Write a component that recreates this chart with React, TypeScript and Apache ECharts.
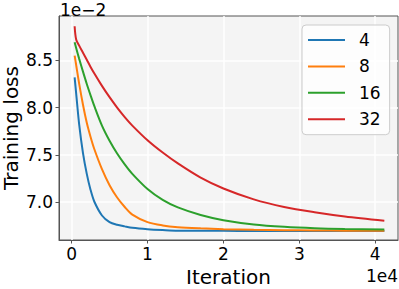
import React, { useEffect, useRef } from "react";
import * as echarts from "echarts";

const iterations = [400, 600, 1000, 1500, 2000, 2500, 3000, 4000, 5000, 6000, 7000, 8000, 10000, 12000, 14000, 17000, 20000, 24000, 28000, 32000, 36000, 41200];
const loss4 = [8.32, 8.15, 7.82, 7.52, 7.30, 7.13, 7.005, 6.86, 6.79, 6.762, 6.745, 6.73, 6.715, 6.706, 6.70, 6.70, 6.698, 6.697, 6.697, 6.696, 6.696, 6.696];
const loss8 = [8.55, 8.45, 8.25, 8.03, 7.84, 7.69, 7.56, 7.35, 7.18, 7.05, 6.95, 6.87, 6.79, 6.755, 6.737, 6.724, 6.715, 6.708, 6.704, 6.702, 6.70, 6.70];
const loss16 = [8.69, 8.63, 8.515, 8.38, 8.25, 8.13, 8.015, 7.81, 7.65, 7.515, 7.40, 7.30, 7.14, 7.025, 6.945, 6.865, 6.81, 6.765, 6.74, 6.725, 6.717, 6.712];
const loss32 = [8.86, 8.72, 8.655, 8.58, 8.505, 8.43, 8.36, 8.23, 8.11, 8.00, 7.90, 7.81, 7.655, 7.525, 7.41, 7.26, 7.145, 7.03, 6.95, 6.895, 6.85, 6.805];

const seriesNames = ["4", "8", "16", "32"];
const seriesValues = [loss4, loss8, loss16, loss32];
const colors = ["#1f77b4", "#ff7f0e", "#2ca02c", "#d62728"];
const xTicks = [0, 10000, 20000, 30000, 40000];
const yTicks = [7.0, 7.5, 8.0, 8.5];

const FONT = "DejaVu Sans";

export default function App() {
  const ref = useRef<HTMLDivElement>(null);
  useEffect(() => {
    const chart = echarts.init(ref.current!, null, { renderer: "svg" });
    chart.setOption({
      animation: false,
      backgroundColor: "#ffffff",
      textStyle: { fontFamily: FONT },
      grid: {
        left: 59,
        right: 1,
        top: 16,
        bottom: 49,
        containLabel: false,
        outerBoundsMode: "none",
        show: true,
        backgroundColor: "#f4f4f4",
        borderColor: "#555",
        borderWidth: 1,
      },
      xAxis: {
        type: "value",
        min: -1660,
        max: 43000,
        axisLine: { show: true, onZero: false, lineStyle: { color: "#555", width: 1 } },
        axisTick: { show: true, customValues: xTicks, length: 3.5, lineStyle: { color: "#555" } },
        axisLabel: {
          customValues: xTicks,
          formatter: (v: number) => String(Math.round(v / 1e4)),
          fontSize: 17,
          color: "#000",
          margin: 5,
          fontFamily: FONT,
        },
        splitLine: { show: true, lineStyle: { color: "#ffffff", width: 1.5 } },
        name: "Iteration",
        nameLocation: "middle",
        nameGap: 27,
        nameMoveOverlap: false,
        nameTextStyle: { fontSize: 20, color: "#000", fontFamily: FONT },
      },
      yAxis: {
        type: "value",
        min: 6.601,
        max: 8.968,
        axisLine: { show: true, onZero: false, lineStyle: { color: "#555", width: 1 } },
        axisTick: { show: true, customValues: yTicks, length: 3.5, lineStyle: { color: "#555" } },
        axisLabel: {
          customValues: yTicks,
          formatter: (v: number) => v.toFixed(1),
          fontSize: 17,
          color: "#000",
          margin: 6,
          fontFamily: FONT,
        },
        splitLine: { show: true, lineStyle: { color: "#ffffff", width: 1.5 } },
        name: "Training loss",
        nameLocation: "middle",
        nameGap: 38,
        nameRotate: 90,
        nameMoveOverlap: false,
        nameTextStyle: { fontSize: 20, color: "#000", fontFamily: FONT },
      },
      legend: {
        orient: "vertical",
        left: 302,
        top: 25,
        data: seriesNames,
        icon: "rect",
        itemWidth: 37,
        itemHeight: 2,
        itemGap: 6.4,
        padding: [5, 9, 5.5, 6],
        backgroundColor: "rgba(255,255,255,0.8)",
        borderColor: "#cccccc",
        borderWidth: 1,
        borderRadius: 4,
        textStyle: { fontSize: 17, color: "#000", lineHeight: 20, padding: [0, 0, 0, 9], fontFamily: FONT },
      },
      graphic: [
        {
          type: "text",
          left: 60,
          top: 1,
          style: { text: "1e\u22122", fontSize: 17, fill: "#000", fontFamily: FONT },
        },
        {
          type: "text",
          right: 1,
          top: 267,
          style: { text: "1e4", fontSize: 17, fill: "#000", fontFamily: FONT },
        },
      ],
      series: seriesNames.map((name, i) => ({
        name,
        type: "line",
        showSymbol: false,
        symbol: "none",
        smooth: 0.3,
        color: colors[i],
        lineStyle: { width: 2, color: colors[i] },
        data: iterations.map((it, j) => [it, seriesValues[i][j]]),
      })),
    });
    return () => chart.dispose();
  }, []);
  return <div ref={ref} style={{ position: "absolute", left: 0, top: 0, width: 399, height: 289 }} />;
}
